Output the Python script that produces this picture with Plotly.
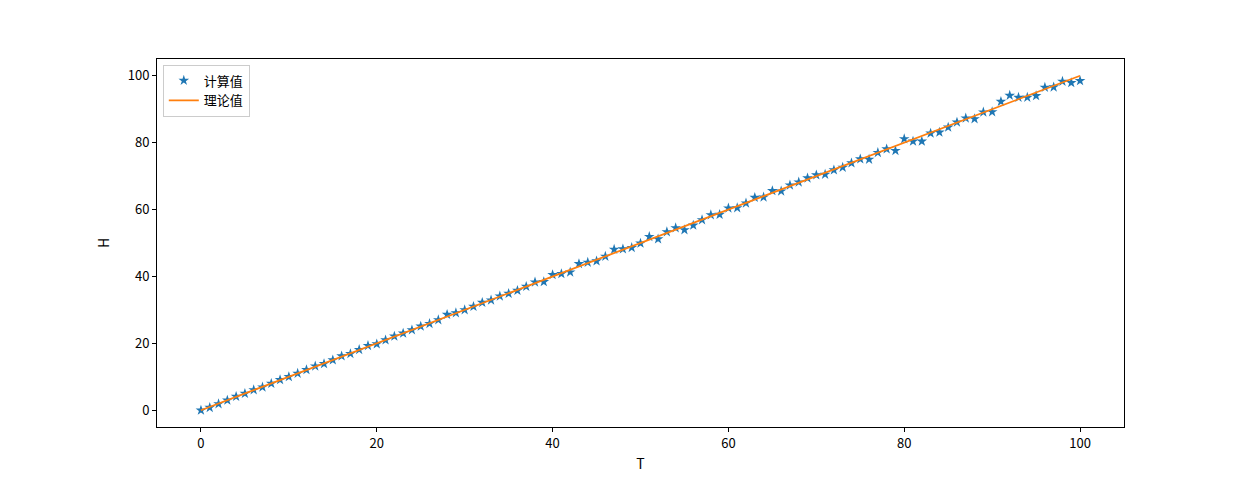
import plotly.graph_objects as go

# 数据
T = list(range(101))
H_calc = [
    0.0, 0.8, 1.9, 3.0, 4.1, 5.0, 6.1, 6.9, 8.0, 9.1,
    10.0, 11.0, 12.1, 13.2, 13.9, 15.0, 16.2, 16.9, 18.1, 19.3,
    19.8, 21.0, 22.1, 23.0, 24.0, 25.1, 25.9, 27.0, 28.6, 29.1,
    30.0, 31.0, 32.2, 32.9, 34.1, 34.9, 35.8, 37.0, 38.3, 38.4,
    40.5, 40.8, 41.3, 43.8, 44.2, 44.6, 46.0, 48.1, 48.2, 48.6,
    49.9, 51.9, 51.2, 53.3, 54.5, 53.9, 55.3, 56.9, 58.4, 58.5,
    60.4, 60.5, 61.9, 63.6, 63.7, 65.6, 65.5, 67.3, 68.2, 69.4,
    70.3, 70.5, 71.8, 72.6, 73.9, 75.1, 75.0, 77.0, 78.1, 77.6,
    81.1, 80.4, 80.4, 82.8, 83.1, 84.6, 86.1, 87.3, 87.1, 89.1,
    89.2, 92.3, 94.1, 93.5, 93.5, 94.0, 96.5, 96.6, 98.3, 97.9,
    98.5,
]
H_theory = [0, 100]
T_theory = [0, 100]

fig = go.Figure()
fig.add_trace(go.Scatter(
    x=T, y=H_calc, mode="markers", name="计算值",
    marker=dict(symbol="star", size=8, color="#1f77b4", line=dict(width=0)),
))
fig.add_trace(go.Scatter(
    x=T_theory, y=H_theory, mode="lines", name="理论值",
    line=dict(color="#ff7f0e", width=1.8),
))

axis_style = dict(
    showgrid=False, zeroline=False, showline=True, mirror=True,
    linecolor="black", linewidth=1, ticks="outside", ticklen=4,
    tickcolor="black", tickfont=dict(size=13, color="black"),
)
fig.update_xaxes(range=[-5, 105], tickvals=[0, 20, 40, 60, 80, 100],
                 title=dict(text="T", font=dict(size=14, color="black"), standoff=8),
                 **axis_style)
fig.update_yaxes(range=[-5, 105], tickvals=[0, 20, 40, 60, 80, 100],
                 title=dict(text="H", font=dict(size=14, color="black"), standoff=14),
                 **axis_style)

fig.update_layout(
    width=1249, height=480,
    margin=dict(l=149, r=133, t=51, b=61),
    paper_bgcolor="white", plot_bgcolor="white",
    font=dict(family="Noto Sans CJK SC, DejaVu Sans", color="black"),
    showlegend=True,
    legend=dict(
        x=0.006, y=0.985, xanchor="left", yanchor="top",
        bordercolor="#cccccc", borderwidth=1, bgcolor="white",
        font=dict(size=13), tracegroupgap=0,
    ),
)

fig.write_html("out.html")
